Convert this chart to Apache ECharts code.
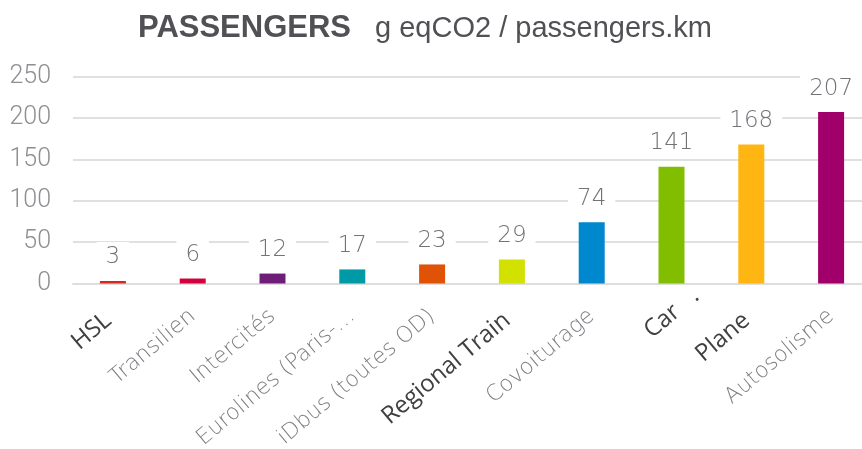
<!DOCTYPE html>
<html>
<head>
<meta charset="utf-8">
<script src="https://cdn.jsdelivr.net/npm/echarts@6/dist/echarts.min.js"></script>
<style>
html,body{margin:0;padding:0;background:#fff;}
#chart{width:862px;height:449px;}
</style>
</head>
<body>
<div id="chart"></div>
<script>
var categories = ['HSL', 'Transilien', 'Intercités', 'Eurolines (Paris-…', 'iDbus (toutes OD)', 'Regional Train', 'Covoiturage', 'Car   .', 'Plane', 'Autosolisme'];
var values = [3, 6, 12, 17, 23, 29, 74, 141, 168, 207];
var barColors = ['#d52b1e', '#d2003c', '#6e1e78', '#009aa6', '#e05206', '#d2e100', '#0088ce', '#82be00', '#ffb612', '#a1006b'];
var darkLabels = ['HSL', 'Regional Train', 'Car   .', 'Plane'];
var yTicks = [0, 50, 100, 150, 200, 250];

var chart = echarts.init(document.getElementById('chart'));

var catData = categories.map(function (c) {
  if (darkLabels.indexOf(c) >= 0) {
    var pad = c === 'Car   .' ? [0, -32, 11, 0] : [0, 6, 0, 0];
    return { value: c, textStyle: { color: '#404040', fontFamily: 'Open Sans', fontSize: 24, fontWeight: 'normal', padding: pad } };
  }
  return { value: c };
});

var barData = values.map(function (v, i) {
  return { value: v, itemStyle: { color: barColors[i] } };
});

chart.setOption({
  animation: false,
  backgroundColor: '#ffffff',
  title: {
    left: 133,
    top: 8,
    text: '{a|PASSENGERS}{b|g eqCO2 / passengers.km}',
    textStyle: {
      rich: {
        a: { fontFamily: 'Liberation Sans', fontWeight: 'bold', fontSize: 31, color: '#505055' },
        b: { fontFamily: 'Liberation Sans', fontWeight: 'normal', fontSize: 29, color: '#505055', padding: [0, 0, 0, 24] }
      }
    }
  },
  grid: { left: 73, top: 76.5, width: 798, height: 207, containLabel: false, outerBoundsMode: 'none' },
  xAxis: {
    type: 'category',
    data: catData,
    axisLine: { show: true, lineStyle: { color: '#dedede', width: 2 } },
    axisTick: { show: false },
    axisLabel: {
      interval: 0,
      rotate: 40,
      margin: 30,
      color: '#7d7d82',
      fontFamily: 'DejaVu Sans',
      fontWeight: 200,
      fontSize: 22
    }
  },
  yAxis: {
    type: 'value',
    min: 0,
    max: 250,
    interval: 50,
    axisLine: { show: false },
    axisTick: { show: false },
    splitLine: { lineStyle: { color: '#e0e0e0', width: 2 } },
    axisLabel: {
      margin: 22,
      color: '#8e8e93',
      fontFamily: 'Roboto',
      fontWeight: 300,
      fontSize: 25,
      formatter: function (v) { return yTicks.indexOf(v) >= 0 ? String(v) : ''; }
    }
  },
  series: [{
    type: 'bar',
    data: barData,
    barWidth: 26,
    label: {
      show: true,
      position: 'top',
      distance: 8,
      color: '#727277',
      fontFamily: 'DejaVu Sans',
      fontWeight: 200,
      fontSize: 23,
      backgroundColor: '#ffffff',
      padding: [4, 9, 4, 9]
    }
  }]
});
</script>
</body>
</html>
